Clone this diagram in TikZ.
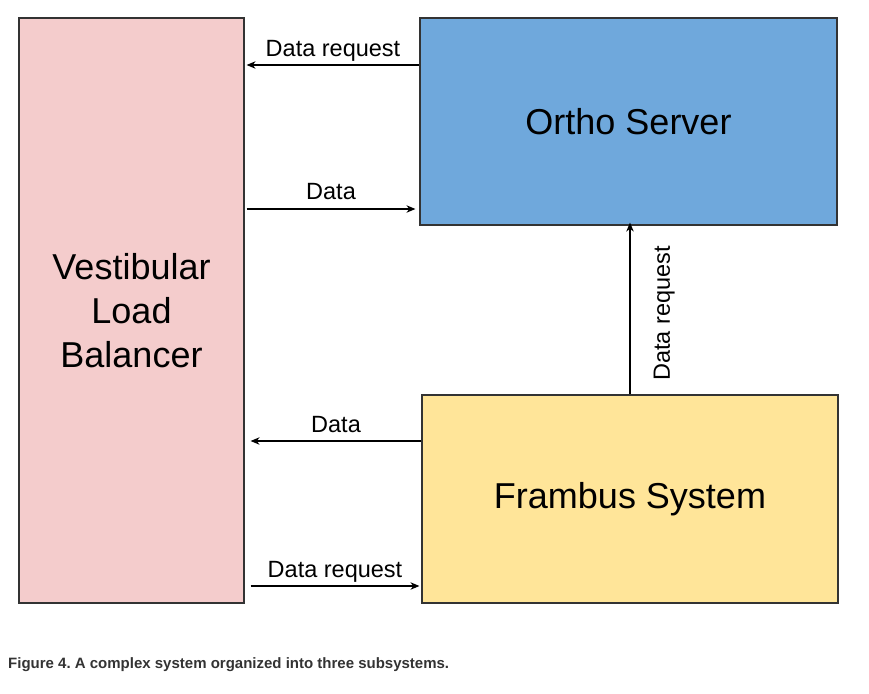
\documentclass[tikz,border=0pt]{standalone}
\usepackage{fontspec}
\setmainfont{Liberation Sans}
\frenchspacing
\usetikzlibrary{arrows.meta}
\definecolor{vlbpink}{HTML}{F4CCCC}
\definecolor{orthoblue}{HTML}{6FA8DC}
\definecolor{frambusyellow}{HTML}{FFE599}
\definecolor{edgegray}{HTML}{333333}
\definecolor{captiongray}{HTML}{333333}
\tikzset{
  subsys/.style={draw=edgegray, line width=1.2pt, inner sep=0pt, align=center,
    font=\fontsize{36}{44}\selectfont},
  flow/.style={line width=1.1pt, -{Stealth[length=9pt, width=7.5pt]}},
  flowlabel/.style={font=\fontsize{23.5}{28}\selectfont, inner sep=2pt,
    text height=0.72em, text depth=0.21em},
}
\begin{document}
\begin{tikzpicture}[x=1pt, y=-1pt]
\useasboundingbox (0,0) rectangle (869,693);
% subsystems
\node[subsys, fill=vlbpink, minimum width=225pt, minimum height=585pt] (vlb) at (131.5,310.5) {Vestibular\\Load\\Balancer};
\node[subsys, fill=orthoblue, minimum width=417pt, minimum height=207pt] (ortho) at (628.5,121.5) {Ortho Server};
\node[subsys, fill=frambusyellow, minimum width=416pt, minimum height=208pt] (frambus) at (630,499) {Frambus System};
% connectors
\coordinate (toptrack) at (0,65);
\coordinate (datatrack) at (0,209);
\coordinate (backtrack) at (0,441);
\coordinate (reqtrack) at (0,586);
\draw[flow] (ortho.west |- toptrack) -- ([xshift=2pt]vlb.east |- toptrack)
  node[flowlabel, midway, above=4pt] {Data request};
\draw[flow] ([xshift=2pt]vlb.east |- datatrack) -- ([xshift=-4pt]ortho.west |- datatrack)
  node[flowlabel, midway, above=5pt] {Data};
\draw[flow] (frambus.north -| 630,0) -- ([yshift=3pt]ortho.south -| 630,0)
  node[flowlabel, pos=0.47, below=30pt, sloped] {Data request};
\draw[flow] (frambus.west |- backtrack) -- ([xshift=6pt]vlb.east |- backtrack)
  node[flowlabel, midway, above=4pt] {Data};
\draw[flow] ([xshift=6pt]vlb.east |- reqtrack) -- ([xshift=-2pt]frambus.west |- reqtrack)
  node[flowlabel, midway, above=4pt] {Data request};
% caption
\node[anchor=west, text=captiongray, font=\fontsize{15}{18}\selectfont\bfseries, inner sep=0pt] (caption) at (8,665)
  {Figure 4. A complex system organized into three subsystems.};
\end{tikzpicture}
\end{document}
